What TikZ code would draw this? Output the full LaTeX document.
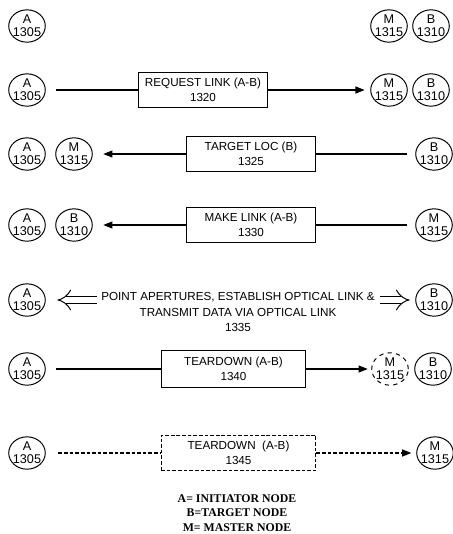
\documentclass[tikz,border=0pt]{standalone}
\usepackage{fontspec}
\setmainfont{Liberation Sans}
\newfontfamily\legendfont{Liberation Serif}
\usetikzlibrary{shapes.geometric,arrows.meta}

\begin{document}
\begin{tikzpicture}[x=0.025cm, y=-0.025cm,
    unit/.style={ellipse, draw, line width=0.7pt, minimum width=26pt, minimum height=23pt,
        inner sep=-4pt, align=center, font=\fontsize{9}{9}\selectfont},
    msg/.style={draw, line width=0.8pt, minimum height=25.5pt, align=center,
        font=\fontsize{8.3}{10.6}\selectfont},
    plain/.style={line width=0.8pt},
    flow/.style={line width=0.8pt, -{Triangle[length=6.5pt,width=5pt]}},
    dots/.style={dash pattern=on 2.6pt off 1.4pt},
    dbl/.style={double, double distance=4.6pt, line width=0.7pt, -{Implies}}]

        \useasboundingbox (0,0) rectangle (453,534);

        % Row 1: units before the exchange
        \node[unit] (a1) at (27,26) {A\\1305};
        \node[unit] (m1) at (389,26) {M\\1315};
        \node[unit] (b1) at (431,26) {B\\1310};

        % Row 2: request link
        \node[unit] (a2) at (27,90) {A\\1305};
        \node[msg, minimum width=92pt] (req) at (203,90) {REQUEST LINK (A-B)\\1320};
        \node[unit] (m2) at (389,90) {M\\1315};
        \node[unit] (b2) at (431,90) {B\\1310};
        \draw[plain, shorten <=7pt] (a2) -- (req);
        \draw[flow, shorten >=4pt] (req) -- (m2);

        % Row 3: target loc
        \node[unit] (a3) at (27,154) {A\\1305};
        \node[unit] (m3) at (74,154) {M\\1315};
        \node[msg, minimum width=92pt] (tgt) at (251,154) {TARGET LOC (B)\\1325};
        \node[unit] (b3) at (434,154) {B\\1310};
        \draw[plain, shorten <=5.5pt] (b3) -- (tgt);
        \draw[flow, shorten >=7.5pt] (tgt) -- (m3);

        % Row 4: make link
        \node[unit] (a4) at (27,225) {A\\1305};
        \node[unit] (b4) at (74,225) {B\\1310};
        \node[msg, minimum width=92pt] (mk) at (251,225) {MAKE LINK (A-B)\\1330};
        \node[unit] (m4) at (434,225) {M\\1315};
        \draw[plain, shorten <=5.5pt] (m4) -- (mk);
        \draw[flow, shorten >=7.5pt] (mk) -- (b4);

        % Row 5: optical link
        \node[unit] (a5) at (27,300) {A\\1305};
        \node[unit] (b5) at (434,300) {B\\1310};
        \node[align=center, font=\fontsize{8.3}{11.3}\selectfont] (opt) at (238,312)
            {POINT APERTURES, ESTABLISH OPTICAL LINK \&\\TRANSMIT DATA VIA OPTICAL LINK\\1335};
        \coordinate (p5l) at (97,300);
        \coordinate (p5r) at (380,300);
        \draw[dbl, shorten >=8.3pt] (p5l) -- (a5);
        \draw[dbl, shorten >=4pt] (p5r) -- (b5);

        % Row 6: teardown
        \node[unit] (a6) at (27,369) {A\\1305};
        \node[msg, minimum width=103pt, minimum height=26.2pt] (td) at (233.5,369) {TEARDOWN (A-B)\\1340};
        \node[unit, dashed] (m6) at (390,369) {M\\1315};
        \node[unit] (b6) at (433,369) {B\\1310};
        \draw[plain, shorten <=7pt] (a6) -- (td);
        \draw[flow, shorten >=2.5pt] (td) -- (m6);

        % Row 7: teardown, dotted
        \node[unit] (a7) at (27,453) {A\\1305};
        \node[msg, dots, minimum width=110pt] (tdd) at (238.5,453) {TEARDOWN \ (A-B)\\1345};
        \node[unit] (m7) at (435,453) {M\\1315};
        \draw[plain, dots, shorten <=9pt] (a7) -- (tdd);
        \draw[flow, dots, shorten >=3.5pt] (tdd) -- (m7);

        % Legend
        \node[align=center, font=\legendfont\bfseries\fontsize{8.4}{10.3}\selectfont] (key) at (237,513)
            {A= INITIATOR NODE\\B=TARGET NODE\\M= MASTER NODE};

    \end{tikzpicture}
\end{document}
